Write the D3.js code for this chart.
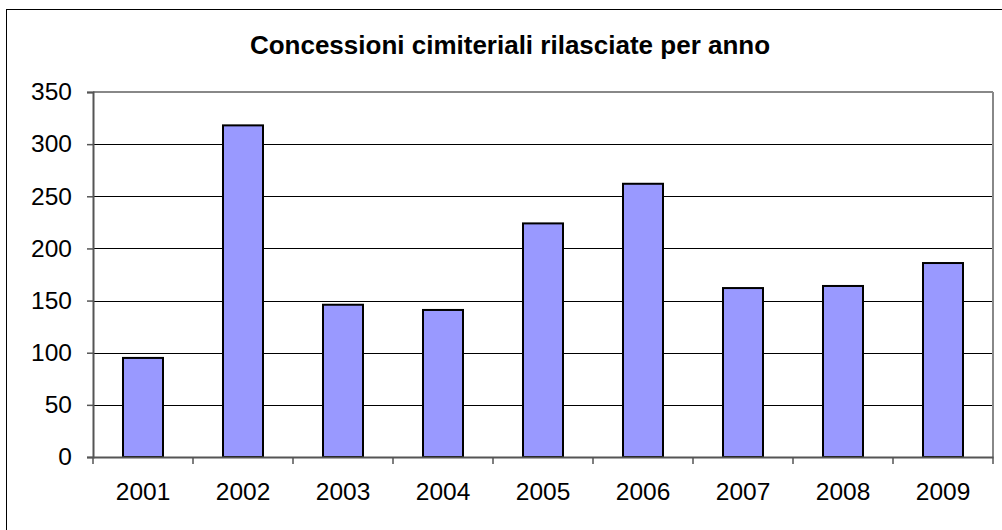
<!DOCTYPE html>
<html><head><meta charset="utf-8">
<script src="https://cdn.jsdelivr.net/npm/d3@7"></script>
<style>body{margin:0;background:#fff}svg{display:block;font-family:"Liberation Sans",Arial,sans-serif}</style>
</head><body><svg id="c" width="1002" height="530"></svg>
<script>
const categories = ["2001","2002","2003","2004","2005","2006","2007","2008","2009"];
const values = [95, 318, 146, 141, 224, 262, 162, 164, 186];
const yTicks = [0, 50, 100, 150, 200, 250, 300, 350];
const title = "Concessioni cimiteriali rilasciate per anno";

const svg = d3.select("#c");
const m = {l:93, r:993, t:92, b:457};
svg.append("rect").attr("x",6.5).attr("y",9.5).attr("width",1000).attr("height",530).attr("fill","none").attr("stroke","#000").attr("stroke-width",1);

const x = d3.scaleBand().domain(categories).range([m.l,m.r]).paddingInner(0.6).paddingOuter(0.3);
const xb = d3.scaleBand().domain(categories).range([m.l,m.r]);
const y = d3.scaleLinear().domain([0,350]).range([m.b,m.t]);

svg.append("text").attr("x",510).attr("y",54).attr("text-anchor","middle").attr("font-weight","bold").attr("font-size",26).text(title);

// gridlines
svg.append("g").selectAll("line").data(yTicks.filter(d=>d>0 && d<350)).join("line")
 .attr("x1",m.l).attr("x2",m.r).attr("y1",d=>Math.round(y(d))+0.5).attr("y2",d=>Math.round(y(d))+0.5)
 .attr("stroke","#000").attr("stroke-width",1);
// plot border top/right
svg.append("line").attr("x1",m.l).attr("x2",m.r).attr("y1",m.t).attr("y2",m.t).attr("stroke","#888").attr("stroke-width",2);
svg.append("line").attr("x1",m.r).attr("x2",m.r).attr("y1",m.t).attr("y2",m.b).attr("stroke","#888").attr("stroke-width",2);

// bars
svg.append("g").selectAll("rect").data(values).join("rect")
 .attr("x",(d,i)=>x(categories[i])).attr("width",x.bandwidth())
 .attr("y",d=>y(d)).attr("height",d=>m.b-y(d))
 .attr("fill","#9999FF").attr("stroke","#000").attr("stroke-width",2);

// y axis
const ya = svg.append("g").attr("transform",`translate(${m.l},0)`)
 .call(d3.axisLeft(y).tickValues(yTicks).tickSize(6).tickPadding(15));
ya.select(".domain").attr("stroke","#555").attr("stroke-width",2);
ya.selectAll(".tick line").attr("stroke","#555").attr("stroke-width",1.5);
ya.selectAll("text").attr("font-size",24.5).attr("fill","#000").attr("font-family","Liberation Sans, Arial, sans-serif");

// x axis
const xa = svg.append("g").attr("transform",`translate(0,${m.b})`)
 .call(d3.axisBottom(xb).tickSize(0).tickPadding(26));
xa.select(".domain").attr("stroke","#555").attr("stroke-width",2);
xa.selectAll("text").attr("font-size",24.5).attr("fill","#000").attr("font-family","Liberation Sans, Arial, sans-serif");
svg.append("g").selectAll("line").data(d3.range(categories.length+1)).join("line")
 .attr("x1",i=>m.l+i*xb.bandwidth()).attr("x2",i=>m.l+i*xb.bandwidth())
 .attr("y1",m.b).attr("y2",m.b+7).attr("stroke","#555").attr("stroke-width",1.5);
</script></body></html>
